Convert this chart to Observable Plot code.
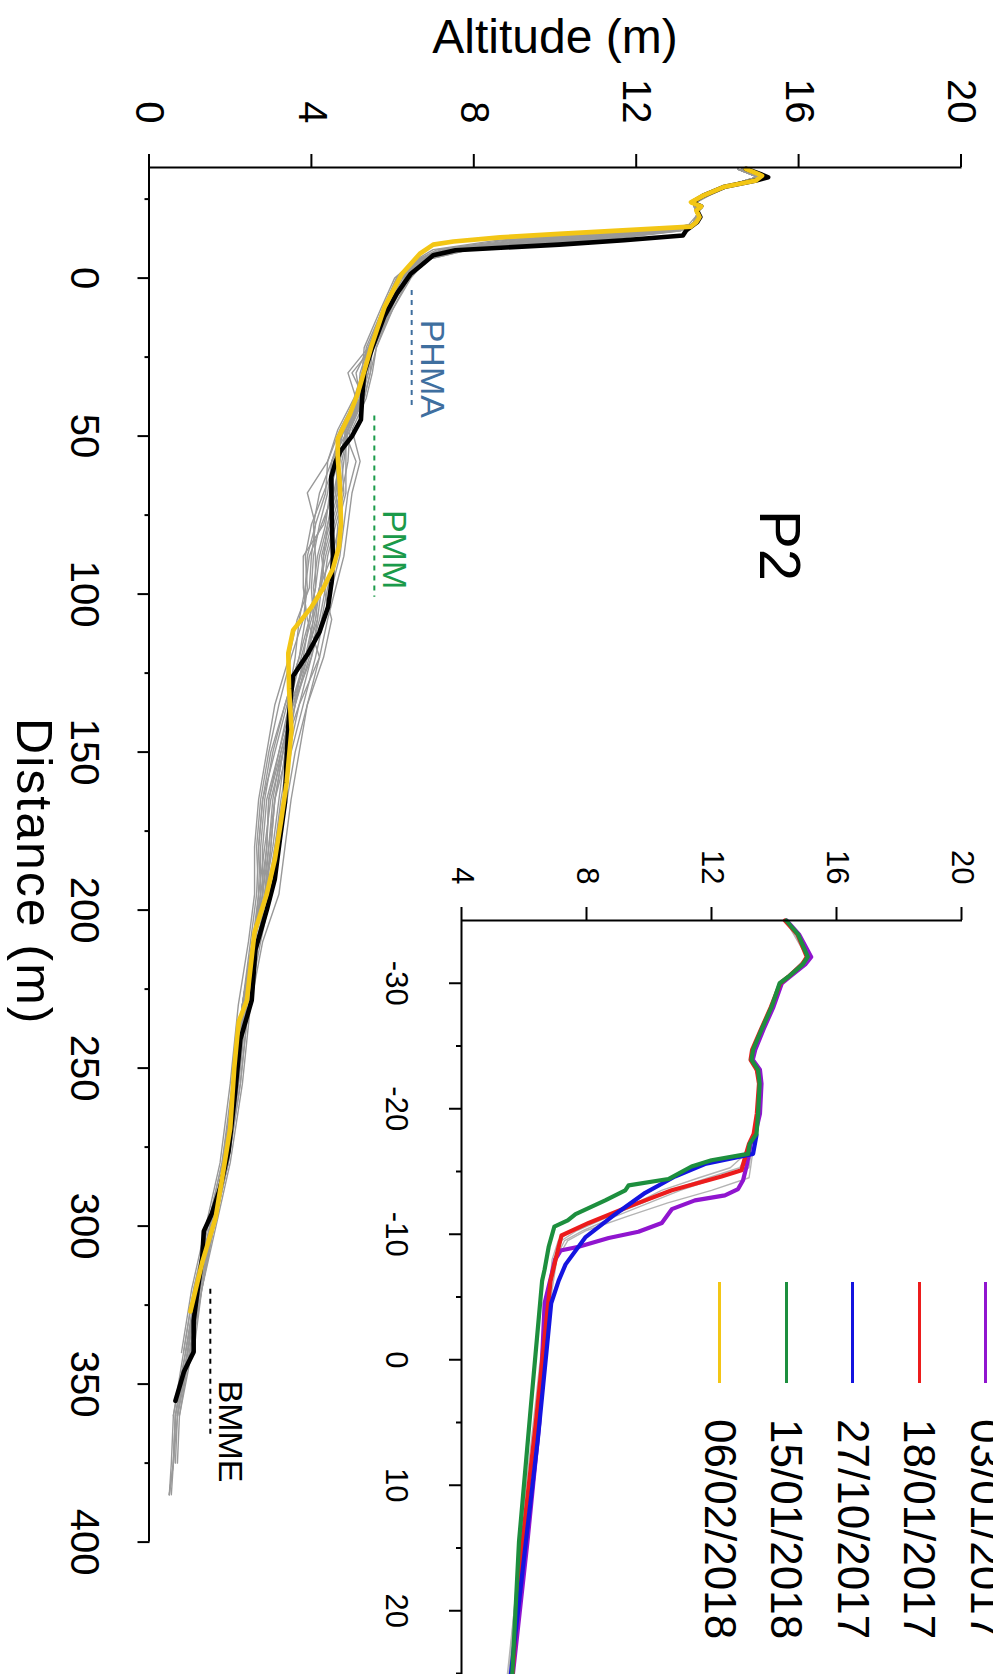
<!DOCTYPE html>
<html><head><meta charset="utf-8">
<script src="https://cdn.jsdelivr.net/npm/d3@7"></script>
<script src="https://cdn.jsdelivr.net/npm/@observablehq/plot@0.6"></script>
<style>
html,body{margin:0;padding:0;background:#fff;width:993px;height:1674px;overflow:hidden;}
#fig{position:absolute;left:0;top:0;width:1674px;height:993px;transform-origin:0 0;transform:translate(993px,0) rotate(90deg);font-family:"Liberation Sans",Arial,Helvetica,sans-serif;}
#main{position:absolute;left:0;top:0;width:1674px;height:993px;}
#inset{position:absolute;left:780px;top:0;width:966px;height:640px;}
#legend{position:absolute;left:1282px;top:-26.25px;width:500px;}
#fig svg{max-width:none !important;display:block;}
.row{display:flex;align-items:center;height:66.5px;}
.sw{width:101px;height:0;border-top:3.5px solid;margin-right:36px;}
.lab{font-size:44px;line-height:1;color:#000;white-space:nowrap;}
</style></head>
<body><div id="fig"><div id="main"></div><div id="inset"></div><div id="legend"></div></div>
<script>
// ---------------- data ----------------
const mainDistDomain = [-35, 400];
const mainAltDomain = [0, 20];
const mainDistTicks = [0, 50, 100, 150, 200, 250, 300, 350, 400];
const mainDistTickLabels = ["0", "50", "100", "150", "200", "250", "300", "350", "400"];
const mainDistMinor = [-25, 25, 75, 125, 175, 225, 275, 325, 375];
const mainAltTicks = [0, 4, 8, 12, 16, 20];
const mainAltTickLabels = ["0", "4", "8", "12", "16", "20"];

const insetDistDomain = [-35, 30];
const insetAltDomain = [4, 20];
const insetDistTicks = [-30, -20, -10, 0, 10, 20];
const insetDistTickLabels = ["-30", "-20", "-10", "0", "10", "20"];
const insetDistMinor = [-25, -15, -5, 5, 15, 25];
const insetAltTicks = [4, 8, 12, 16, 20];
const insetAltTickLabels = ["4", "8", "12", "16", "20"];

// gray profiles (main panel), altitude at each distance of grayDist
const grayDist = [-34.5,-32,-29,-24,-20,-17,-15,-12,-9,-6,0,10,22,30,38,48,58,68,78,88,98,108,120,135,150,165,180,195,210,230,255,280,300,320,340,360,375,385];
const gray01 = [14.5,15.0,14.2,13.4,13.5,13.4,12.8,10.2,7.6,6.8,6.25,5.85,5.45,5.35,5.2,4.85,4.7,4.6,4.4,4.2,4.1,3.95,3.8,3.6,3.3,3.0,2.85,2.7,2.55,2.3,2.1,1.85,1.5,1.2,0.95,0.65,0.6,0.55];
const gray02 = [14.6,15.1,14.3,13.4,13.5,13.4,12.5,9.6,7.3,6.7,6.2,5.8,5.5,5.0,5.3,4.8,5.1,4.9,4.8,4.7,4.5,4.3,4.1,3.8,3.5,3.3,3.1,2.9,2.7,2.4,2.2,1.9,1.55,1.25,1.0,0.7,null,null];
const gray03 = [14.5,15.0,14.2,13.5,13.5,13.3,13.0,11.0,7.9,6.9,6.3,5.9,5.4,4.9,5.1,4.7,4.4,3.9,4.1,3.9,3.85,3.7,3.6,3.4,3.1,2.8,2.7,2.65,2.5,2.3,2.05,1.8,1.45,1.1,0.85,null,null,null];
const gray04 = [14.6,15.1,14.2,13.4,13.5,13.4,12.3,8.8,7.1,6.65,6.1,5.75,5.35,5.3,5.25,4.95,4.6,4.3,4.0,3.85,3.9,3.8,3.5,3.2,2.95,2.75,2.65,2.7,2.6,2.35,2.15,1.9,1.6,1.3,1.05,0.75,0.7,null];
const gray05 = [14.5,15.0,14.2,13.4,13.5,13.4,12.9,10.6,7.7,6.8,6.4,6.0,5.6,5.5,5.35,5.0,5.2,5.0,4.9,4.8,4.6,4.4,4.2,3.9,3.6,3.4,3.2,3.0,2.75,2.45,2.25,1.95,1.6,1.25,1.05,null,null,null];
const gray06 = [14.6,15.0,14.3,13.4,13.5,13.4,12.6,9.9,7.4,6.75,6.2,5.85,5.45,5.4,5.2,4.9,4.5,4.4,4.2,4.05,4.0,4.05,3.9,3.5,3.2,2.9,2.8,2.8,2.55,2.3,2.1,1.85,1.5,1.15,0.9,0.6,0.55,0.5];
const gray07 = [14.5,15.0,14.2,13.4,13.5,13.4,13.1,10.8,7.8,6.85,6.45,6.0,5.5,5.4,5.25,4.9,4.8,4.7,4.5,4.3,4.2,4.1,3.9,3.6,3.4,3.1,3.0,2.85,2.6,2.35,2.15,1.9,1.55,1.2,0.95,null,null,null];
const gray08 = [14.6,15.1,14.2,13.4,13.5,13.4,12.4,9.2,7.2,6.7,6.15,5.8,5.4,5.2,5.15,4.8,4.55,4.5,4.3,3.8,3.8,3.9,4.2,3.7,3.3,3.1,3.0,2.9,2.65,2.4,2.2,1.95,1.6,1.3,1.1,null,null,null];
const gray09 = [14.5,15.0,14.2,13.4,13.5,13.4,12.7,10.0,7.5,6.8,6.3,5.9,5.5,5.45,5.3,4.9,4.75,4.8,4.6,4.4,4.3,4.5,4.3,3.9,3.7,3.5,3.35,3.2,2.8,2.5,2.3,2.0,1.65,1.3,1.0,0.7,0.65,null];
const gray10 = [14.6,15.0,14.2,13.4,13.5,13.4,12.2,8.6,7.0,6.6,6.05,5.7,5.3,5.25,5.05,4.65,4.4,4.35,4.1,4.0,3.95,3.65,3.45,3.1,2.9,2.7,2.6,2.6,2.45,2.2,2.0,1.75,1.4,1.05,0.8,null,null,null];
const gray11 = [14.5,15.0,14.2,13.4,13.5,13.4,13.0,10.4,7.7,6.9,6.3,5.95,5.55,5.3,5.2,4.9,4.65,4.6,4.7,4.5,4.2,4.0,3.75,3.45,3.2,2.95,2.9,2.75,2.6,2.4,2.2,1.95,1.6,1.25,1.0,0.75,null,null];
const gray12 = [14.6,15.1,14.2,13.4,13.5,13.4,12.6,9.4,7.3,6.7,6.2,5.8,5.45,5.35,5.2,4.8,4.6,4.65,4.45,4.25,4.35,4.2,3.95,3.6,3.35,3.2,3.05,2.85,2.6,2.3,2.1,1.85,1.5,1.15,0.9,0.65,0.6,0.5];
const gray13 = [14.5,15.0,14.2,13.4,13.5,13.4,12.9,10.5,7.6,6.8,6.3,5.95,5.6,5.45,5.3,4.95,4.9,4.75,4.55,4.35,4.2,4.05,3.85,3.55,3.25,3.05,2.95,2.8,2.6,2.4,2.15,1.9,1.55,1.2,0.95,0.7,null,null];
const gray14 = [14.6,15.1,14.2,13.4,13.5,13.4,12.7,9.8,7.4,6.75,6.2,5.8,5.4,5.1,5.2,4.75,4.5,4.55,4.25,3.95,3.85,3.85,3.7,3.35,3.05,2.85,2.75,2.75,2.55,2.3,2.1,1.8,1.45,1.1,0.85,0.6,null,null];
const gray15 = [14.5,15.0,14.2,13.4,13.5,13.4,13.1,11.2,7.9,6.9,6.35,5.95,5.5,5.35,5.25,4.85,4.85,4.85,4.65,4.6,4.4,4.25,4.0,3.7,3.45,3.25,3.1,2.95,2.7,2.45,2.25,1.95,1.6,1.25,1.0,null,null,null];
const gray16 = [14.6,15.0,14.3,13.4,13.5,13.4,12.4,9.0,7.2,6.65,6.1,5.75,5.4,5.3,5.1,4.8,4.5,4.2,4.05,4.1,4.1,3.95,3.7,3.35,3.0,2.8,2.7,2.75,2.6,2.35,2.1,1.85,1.55,1.2,0.95,0.65,0.6,null];
const gray17 = [14.5,15.0,14.2,13.4,13.5,13.4,12.8,10.1,7.6,6.8,6.3,5.9,5.5,5.35,5.25,4.9,4.65,4.45,4.35,4.15,4.05,4.15,4.0,3.55,3.25,2.95,2.9,2.8,2.55,2.35,2.15,1.9,1.55,1.2,0.9,null,null,null];
const gray18 = [14.6,15.1,14.2,13.4,13.5,13.4,12.5,9.5,7.35,6.7,6.2,5.85,5.45,5.25,5.2,4.85,4.7,4.55,4.4,4.3,4.25,4.15,3.85,3.5,3.3,3.1,2.95,2.85,2.6,2.35,2.15,1.9,1.55,1.2,0.95,0.7,0.6,0.5];

const blackDist = [-34.6,-33,-31.9,-30.9,-28.8,-26.1,-24,-22.7,-21.4,-19.3,-17.7,-15.1,-13.5,-12.0,-10.6,-8.8,-7.2,-4,-1.4,5,12,22,30,38,44.8,50,54.5,58,62.9,75,88.4,96,104.1,112,118.7,125.9,134,141.7,155,165.9,178,190.1,200,212.6,228.6,240.9,258,276.2,288,296,301.6,310.1,320,329.9,339.8,346.1,355.3];
const blackAlt = [14.7,15.05,15.25,14.95,14.15,13.65,13.38,13.6,13.5,13.58,13.5,13.23,13.15,11.7,10.1,7.55,7.0,6.7,6.45,6.1,5.8,5.5,5.3,5.25,5.22,5.0,4.73,4.6,4.49,4.5,4.53,4.5,4.41,4.2,3.92,3.55,3.48,3.43,3.38,3.35,3.22,3.1,2.9,2.62,2.53,2.25,2.12,1.96,1.75,1.55,1.35,1.31,1.2,1.1,1.1,0.86,0.65];

const yellowDist = [-34.6,-33,-32.4,-30.9,-28.8,-26.1,-24,-22.7,-21.4,-19.3,-17.7,-16.3,-14.0,-12.9,-11.6,-10.6,-7.7,-1.4,9.2,21.9,36.6,43,50.8,56.9,65,77.5,85,92,98,104.1,111.4,118.7,130,142.9,159.8,172,184,195,207,212.6,228.6,235.3,250,269.1,285,297.4,311.5,327];
const yellowAlt = [14.7,15.0,15.1,14.95,14.15,13.65,13.35,13.6,13.48,13.56,13.48,13.35,10.1,8.65,7.5,7.0,6.67,6.23,5.8,5.47,5.14,4.95,4.65,4.65,4.7,4.73,4.68,4.53,4.3,4.0,3.55,3.43,3.45,3.51,3.39,3.25,3.1,2.9,2.6,2.55,2.41,2.21,2.1,2.0,1.8,1.64,1.31,1.02];

// inset profiles
const purpleDist = [-35,-33.9,-32.1,-31.5,-30.5,-30,-28.1,-26.3,-24.7,-23.9,-23.1,-22,-19.6,-18,-17.2,-16.4,-15.4,-14.3,-13.6,-13.1,-12.7,-12.0,-10.9,-10.2,-9.7,-9.0,-8.7,-8.0,-4.5,5.0,14.5,25.6];
const purpleAlt = [14.4,14.8,15.19,15.0,14.5,14.25,13.98,13.66,13.4,13.32,13.55,13.6,13.55,13.4,13.25,13.2,13.12,13.01,12.85,12.43,11.47,10.73,10.41,9.66,8.71,7.75,7.17,7.0,6.66,6.49,6.11,5.62];
const redDist = [-35,-33.9,-32.1,-31.5,-30.5,-30,-28.1,-26.3,-24.7,-23.9,-23.1,-22,-19.6,-18,-17.2,-16.0,-15.1,-14.6,-13.5,-12.2,-10.9,-9.9,-8.8,-6.3,-1.75,5.0,14.5,25.3];
const redAlt = [14.35,14.75,15.05,14.9,14.45,14.2,13.9,13.58,13.3,13.25,13.45,13.52,13.45,13.35,13.2,13.06,12.96,12.32,10.73,9.35,8.07,7.2,7.09,6.85,6.66,6.38,5.95,5.62];
const blueDist = [-17.9,-16.4,-15.6,-14.6,-13.3,-11.6,-9.75,-7.6,-6.3,-4.5,-0.4,6.4,14.5,25.3];
const blueAlt = [13.44,13.33,11.79,10.83,9.88,8.92,7.96,7.33,7.11,6.87,6.71,6.44,6.06,5.57];
const greenDist = [-35,-33.9,-32.1,-31.5,-30.5,-30,-28.1,-26.3,-24.7,-23.9,-23.1,-22,-19.6,-18,-17.2,-16.4,-15.9,-15.4,-14.4,-13.9,-13.5,-12.7,-11.6,-11.1,-10.6,-9.0,-7.2,-6.3,3.7,14.5,25.3];
const greenAlt = [14.39,14.77,15.08,14.92,14.45,14.18,13.92,13.6,13.33,13.28,13.49,13.54,13.49,13.44,13.22,13.17,12.0,11.36,10.62,9.35,9.24,8.6,7.65,7.4,6.97,6.79,6.66,6.58,6.22,5.84,5.62];

const insetGrayDist = [-35,-32.1,-30,-26.3,-23.9,-22,-18,-16.2,-15.3,-14.5,-13.5,-12.5,-11.5,-10.3,-9.5,-8,-4,5,15,25.5];
const insetGray1 = [14.4,15.1,14.2,13.62,13.3,13.55,13.42,13.0,12.6,11.6,10.4,9.6,8.7,7.5,7.1,6.9,6.75,6.35,5.9,5.55];
const insetGray2 = [14.37,15.05,14.2,13.6,13.3,13.55,13.45,13.25,13.2,12.2,11.0,10.0,9.0,7.9,7.3,7.0,6.7,6.3,5.85,5.5];
const insetGray3 = [14.4,15.1,14.22,13.63,13.3,13.55,13.45,13.1,12.9,11.9,10.7,9.8,8.8,7.7,7.2,6.95,6.8,6.4,5.9,5.45];
const insetGray4 = [14.4,15.1,14.2,13.6,13.3,13.55,13.45,13.3,13.25,13.2,12.0,10.6,9.4,8.0,7.4,7.05,6.8,6.38,5.95,5.5];

const legendDates = ["03/01/2017", "18/01/2017", "27/10/2017", "15/01/2018", "06/02/2018"];
const legendColors = ["#9015cf", "#ec1c1c", "#1414e0", "#1d8f3e", "#f3c615"];

const annLabels = ["PHMA", "PMM", "BMME"];
const annColors = ["#3f6f9f", "#1b9a4a", "#000000"];
const annStart = [3.9, 43.6, 320];
const annEnd = [41.4, 101, 366];
const annAlt = [6.47, 5.55, 1.51];
const annLabelDist = [28.7, 85.9, 365];

const panelLabel = ["P2"];
const panelLabelDist = [84.6];
const panelLabelAlt = [15.5];

const xTitle = "Distance (m)";
const yTitle = "Altitude (m)";

// ---------------- build ----------------
function rec(id, dist, alt) {
  const out = [];
  dist.forEach((d, i) => { if (alt[i] != null) out.push({id, d, a: alt[i]}); });
  return out;
}
const grayMain = [gray01,gray02,gray03,gray04,gray05,gray06,gray07,gray08,gray09,gray10,gray11,gray12,gray13,gray14,gray15,gray16,gray17,gray18]
  .flatMap((g, k) => rec("g" + k, grayDist, g));
const blackRec = rec("black", blackDist, blackAlt);
const yellowRec = rec("yellow", yellowDist, yellowAlt);
const insetGrayRec = [insetGray1, insetGray2, insetGray3, insetGray4].flatMap((g, k) => rec("ig" + k, insetGrayDist, g));
const purpleRec = rec("p", purpleDist, purpleAlt);
const redRec = rec("r", redDist, redAlt);
const blueRec = rec("b", blueDist, blueAlt);
const greenRec = rec("gr", greenDist, greenAlt);
const fmt = (vals, labs) => { const m = new Map(vals.map((v, i) => [v, labs[i]])); return d => m.get(d); };

const FONT = "Liberation Sans, Arial, Helvetica, sans-serif";
const svgStyle = {background: "transparent", fontFamily: FONT, color: "#000", overflow: "visible"};

const annMarks = annLabels.flatMap((lab, i) => {
  const r = [{start: annStart[i], end: annEnd[i], alt: annAlt[i], pos: annLabelDist[i], label: lab}];
  return [
    Plot.ruleY(r, {y: "alt", x1: "start", x2: "end", stroke: annColors[i], strokeWidth: 2, strokeDasharray: "5,5"}),
    Plot.text(r, {x: "pos", y: "alt", text: "label", fill: annColors[i], fontSize: 34, dy: -20})
  ];
});

const mainPlot = Plot.plot({
  width: 1674, height: 993,
  marginLeft: 167, marginRight: 132.4, marginTop: 31.5, marginBottom: 149.5,
  x: {domain: mainDistDomain, label: null},
  y: {domain: mainAltDomain, label: null},
  style: svgStyle,
  marks: [
    Plot.line(grayMain, {x: "d", y: "a", z: "id", stroke: "#999999", strokeWidth: 1.4}),
    Plot.line(blackRec, {x: "d", y: "a", stroke: "#000", strokeWidth: 4.6}),
    Plot.line(yellowRec, {x: "d", y: "a", stroke: legendColors[4], strokeWidth: 4.6}),
    ...annMarks,
    Plot.text(panelLabel, {x: (d, i) => panelLabelDist[i], y: (d, i) => panelLabelAlt[i], text: d => d, fontSize: 58}),
    Plot.ruleY([mainAltDomain[0]], {stroke: "#000", strokeWidth: 2}),
    Plot.ruleX([mainDistDomain[0]], {stroke: "#000", strokeWidth: 2}),
    Plot.axisX(mainDistTicks, {anchor: "bottom", tickSize: 12, tickPadding: 38, fontSize: 40, strokeWidth: 2, label: null, tickFormat: fmt(mainDistTicks, mainDistTickLabels)}),
    Plot.axisX(mainDistMinor, {anchor: "bottom", tickSize: 5, strokeWidth: 2, label: null, tickFormat: () => ""}),
    Plot.axisY(mainAltTicks, {anchor: "left", tickSize: 13, tickPadding: 31, fontSize: 40, strokeWidth: 2, label: null, tickFormat: fmt(mainAltTicks, mainAltTickLabels)}),
    Plot.text([xTitle], {text: d => d, frameAnchor: "bottom", textAnchor: "middle", lineAnchor: "middle", dx: 17, dy: 116, fontSize: 50}),
    Plot.text([yTitle], {text: d => d, frameAnchor: "left", textAnchor: "middle", lineAnchor: "middle", rotate: -90, dx: -130, fontSize: 48})
  ]
});
document.getElementById("main").appendChild(mainPlot);
mainPlot.querySelectorAll("text").forEach(t => { if (t.textContent === xTitle) t.style.letterSpacing = "2px"; });

const insetPlot = Plot.plot({
  width: 965.75, height: 640,
  marginLeft: 140, marginRight: 10, marginTop: 31, marginBottom: 109,
  x: {domain: insetDistDomain, label: null},
  y: {domain: insetAltDomain, label: null},
  style: svgStyle,
  marks: [
    Plot.line(insetGrayRec, {x: "d", y: "a", z: "id", stroke: "#b4b4b4", strokeWidth: 1.4}),
    Plot.line(purpleRec, {x: "d", y: "a", stroke: legendColors[0], strokeWidth: 4.2}),
    Plot.line(redRec, {x: "d", y: "a", stroke: legendColors[1], strokeWidth: 4.2}),
    Plot.line(blueRec, {x: "d", y: "a", stroke: legendColors[2], strokeWidth: 4.2}),
    Plot.line(greenRec, {x: "d", y: "a", stroke: legendColors[3], strokeWidth: 4.2}),
    Plot.ruleY([insetAltDomain[0]], {stroke: "#000", strokeWidth: 2}),
    Plot.ruleX([insetDistDomain[0]], {stroke: "#000", strokeWidth: 2}),
    Plot.axisX(insetDistTicks, {anchor: "bottom", tickSize: 13, tickPadding: 40, fontSize: 31, strokeWidth: 2, label: null, tickFormat: fmt(insetDistTicks, insetDistTickLabels)}),
    Plot.axisX(insetDistMinor, {anchor: "bottom", tickSize: 6, strokeWidth: 2, label: null, tickFormat: () => ""}),
    Plot.axisY(insetAltTicks, {anchor: "left", tickSize: 13, tickPadding: 23, fontSize: 31, strokeWidth: 2, label: null, tickFormat: fmt(insetAltTicks, insetAltTickLabels)})
  ]
});
document.getElementById("inset").appendChild(insetPlot);

const legend = document.getElementById("legend");
legendDates.forEach((lab, i) => {
  const row = document.createElement("div");
  row.className = "row";
  const sw = document.createElement("div");
  sw.className = "sw";
  sw.style.borderTopColor = legendColors[i];
  const t = document.createElement("span");
  t.className = "lab";
  t.textContent = lab;
  row.appendChild(sw); row.appendChild(t);
  legend.appendChild(row);
});
</script></body></html>
